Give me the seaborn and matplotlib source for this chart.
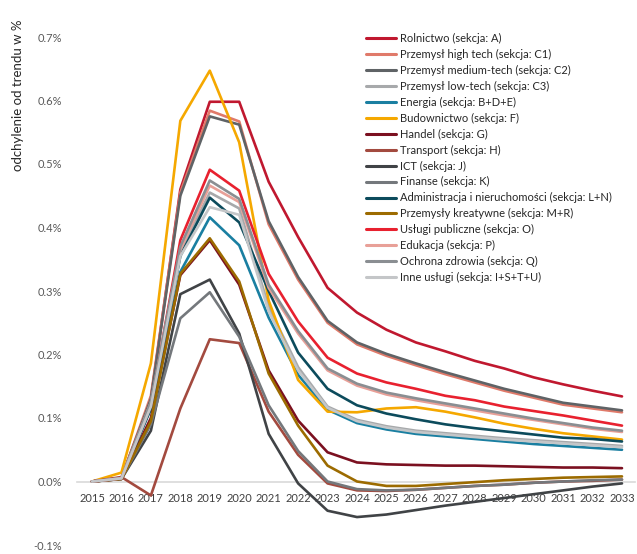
import matplotlib
matplotlib.use("Agg")
import matplotlib.pyplot as plt
import seaborn as sns
import pandas as pd

years = list(range(2015, 2034))

rolnictwo = [0, 0.006, 0.13, 0.46, 0.598, 0.598, 0.472, 0.385, 0.305, 0.266, 0.239, 0.219, 0.205, 0.19, 0.178, 0.164, 0.153, 0.143, 0.134]
high_tech = [0, 0.005, 0.135, 0.455, 0.584, 0.567, 0.405, 0.318, 0.25, 0.216, 0.198, 0.183, 0.169, 0.156, 0.143, 0.132, 0.121, 0.115, 0.109]
medium_tech = [0, 0.005, 0.13, 0.45, 0.575, 0.562, 0.41, 0.322, 0.253, 0.219, 0.201, 0.186, 0.172, 0.159, 0.146, 0.135, 0.124, 0.118, 0.112]
low_tech = [0, 0.005, 0.12, 0.36, 0.455, 0.43, 0.275, 0.18, 0.118, 0.097, 0.087, 0.080, 0.076, 0.072, 0.068, 0.065, 0.062, 0.059, 0.056]
energia = [0, 0.005, 0.115, 0.33, 0.416, 0.372, 0.258, 0.168, 0.113, 0.092, 0.082, 0.075, 0.071, 0.067, 0.063, 0.059, 0.056, 0.053, 0.050]
budownictwo = [0, 0.014, 0.186, 0.568, 0.647, 0.534, 0.285, 0.16, 0.11, 0.109, 0.115, 0.117, 0.110, 0.101, 0.091, 0.083, 0.076, 0.071, 0.066]
handel = [0, 0.004, 0.10, 0.325, 0.38, 0.31, 0.175, 0.096, 0.046, 0.030, 0.027, 0.026, 0.025, 0.025, 0.024, 0.023, 0.022, 0.022, 0.021]
transport = [0, 0.007, -0.022, 0.115, 0.224, 0.218, 0.11, 0.042, -0.003, -0.014, -0.015, -0.013, -0.010, -0.007, -0.005, -0.002, 0.0, 0.001, 0.003]
ict = [0, 0.004, 0.08, 0.295, 0.318, 0.233, 0.075, -0.003, -0.046, -0.056, -0.052, -0.045, -0.038, -0.032, -0.026, -0.02, -0.014, -0.008, -0.003]
finanse = [0, 0.004, 0.09, 0.257, 0.298, 0.228, 0.12, 0.048, 0.0, -0.012, -0.014, -0.013, -0.010, -0.007, -0.005, -0.002, 0.0, 0.002, 0.003]
administracja = [0, 0.005, 0.115, 0.355, 0.447, 0.408, 0.30, 0.203, 0.146, 0.120, 0.107, 0.098, 0.090, 0.084, 0.079, 0.074, 0.069, 0.067, 0.063]
kreatywne = [0, 0.004, 0.095, 0.327, 0.383, 0.315, 0.17, 0.088, 0.025, 0.0, -0.007, -0.007, -0.004, -0.001, 0.002, 0.004, 0.006, 0.007, 0.008]
uslugi_publiczne = [0, 0.005, 0.12, 0.38, 0.491, 0.458, 0.327, 0.252, 0.195, 0.170, 0.156, 0.146, 0.135, 0.128, 0.118, 0.111, 0.104, 0.096, 0.088]
edukacja = [0, 0.005, 0.125, 0.365, 0.466, 0.44, 0.305, 0.233, 0.175, 0.151, 0.137, 0.128, 0.120, 0.112, 0.104, 0.097, 0.090, 0.083, 0.078]
ochrona_zdrowia = [0, 0.005, 0.125, 0.37, 0.474, 0.445, 0.31, 0.237, 0.178, 0.154, 0.140, 0.131, 0.123, 0.115, 0.107, 0.099, 0.092, 0.085, 0.080]
inne_uslugi = [0, 0.005, 0.118, 0.355, 0.432, 0.42, 0.268, 0.175, 0.116, 0.095, 0.085, 0.078, 0.074, 0.070, 0.066, 0.063, 0.060, 0.057, 0.054]

sectors = [
    ("Rolnictwo (sekcja: A)", rolnictwo, "#c0182f"),
    ("Przemysł high tech (sekcja: C1)", high_tech, "#e07a6a"),
    ("Przemysł medium-tech (sekcja: C2)", medium_tech, "#5f6366"),
    ("Przemysł low-tech (sekcja: C3)", low_tech, "#a7a9ab"),
    ("Energia (sekcja: B+D+E)", energia, "#1a7fa1"),
    ("Budownictwo (sekcja: F)", budownictwo, "#f5a800"),
    ("Handel (sekcja: G)", handel, "#7b1020"),
    ("Transport (sekcja: H)", transport, "#a34a3f"),
    ("ICT (sekcja: J)", ict, "#404346"),
    ("Finanse (sekcja: K)", finanse, "#74787c"),
    ("Administracja i nieruchomości (sekcja: L+N)", administracja, "#0c4b5c"),
    ("Przemysły kreatywne (sekcja: M+R)", kreatywne, "#9c6b00"),
    ("Usługi publiczne (sekcja: O)", uslugi_publiczne, "#e8212f"),
    ("Edukacja (sekcja: P)", edukacja, "#e8a098"),
    ("Ochrona zdrowia (sekcja: Q)", ochrona_zdrowia, "#8a8e92"),
    ("Inne usługi (sekcja: I+S+T+U)", inne_uslugi, "#c4c6c8"),
]

rows = []
for name, vals, _ in sectors:
    for y, v in zip(years, vals):
        rows.append({"rok": y, "wartosc": v, "sektor": name})
df = pd.DataFrame(rows)
palette = {name: col for name, _, col in sectors}
order = [name for name, _, _ in sectors]

sns.set_theme(style="white")
plt.rcParams["font.family"] = ["Lato", "DejaVu Sans"]

W, H = 637, 554
fig = plt.figure(figsize=(W / 100, H / 100), dpi=100)
left_px, right_px, top_px, bottom_px = 77, 635, 37, 545
ax = fig.add_axes([left_px / W, 1 - bottom_px / H, (right_px - left_px) / W, (bottom_px - top_px) / H])

sns.lineplot(data=df, x="rok", y="wartosc", hue="sektor", hue_order=order,
             palette=palette, linewidth=1.9, ax=ax, legend=True)

px_per_year = (622 - 92) / 18
ax.set_xlim(2015 - (92 - left_px) / px_per_year, 2033 + (right_px - 622) / px_per_year)
ax.set_ylim(-0.1, 0.7)

ax.set_xticks(years)
ax.set_xticklabels([str(y) for y in years])
yticks = [-0.1, 0.0, 0.1, 0.2, 0.3, 0.4, 0.5, 0.6, 0.7]
ax.set_yticks(yticks)
ax.set_yticklabels([f"{v:.1f}%" for v in yticks])

for s in ["top", "right", "left"]:
    ax.spines[s].set_visible(False)
ax.spines["bottom"].set_position(("data", 0))
ax.spines["bottom"].set_color("#d9d9d9")
ax.spines["bottom"].set_linewidth(1.2)
ax.spines["bottom"].set_zorder(0)

ax.tick_params(axis="x", length=0, pad=8, labelsize=8, labelcolor="#404040")
ax.tick_params(axis="y", length=0, pad=11, labelsize=8, labelcolor="#595959")
ax.set_xlabel("")
ax.set_ylabel("")
ax.grid(False)

fig.text(18 / W, 1 - 95 / H, "odchylenie od trendu w %", rotation=90,
         ha="center", va="center", fontsize=9.5, color="#262626")

handles, labels = ax.get_legend_handles_labels()
ax.legend(handles, labels, loc="upper left", bbox_to_anchor=(366 / W, 1 - 33 / H),
          bbox_transform=fig.transFigure, frameon=False, fontsize=8,
          handlelength=2.7, handletextpad=0.4, labelspacing=0.44,
          borderaxespad=0, borderpad=0, labelcolor="#262626")
for line in ax.get_legend().get_lines():
    line.set_linewidth(2.2)

fig.savefig("out.png", dpi=100)
